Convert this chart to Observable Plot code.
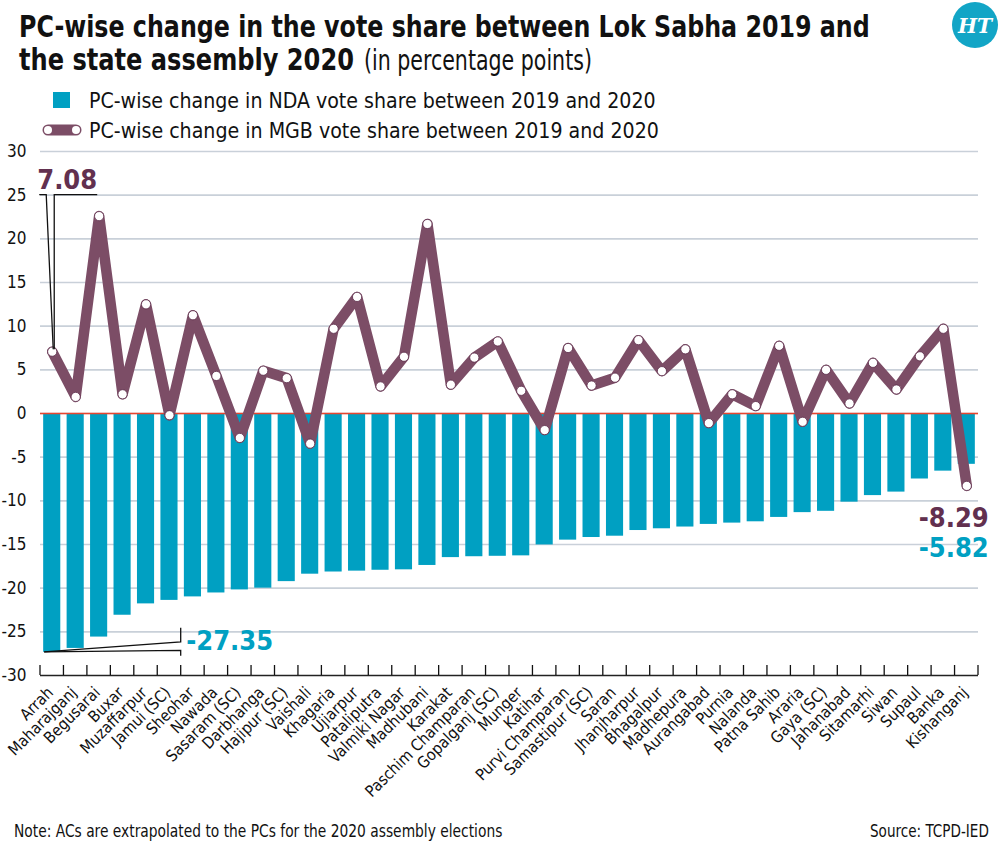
<!DOCTYPE html>
<html>
<head>
<meta charset="utf-8">
<script src="https://cdn.jsdelivr.net/npm/d3@7"></script>
<script src="https://cdn.jsdelivr.net/npm/@observablehq/plot@0.6"></script>
<style>
  html, body { margin: 0; padding: 0; background: #fff; }
  body { width: 1000px; height: 849px; overflow: hidden; }
  #page { position: relative; width: 1000px; height: 849px;
    font-family: "DejaVu Sans Condensed", "DejaVu Sans", sans-serif; color: #111; }
  #page > svg, #chart { position: absolute; left: 0; }
  #chart { top: 140px; }
</style>
</head>
<body>
<div id="page">
  <svg id="header" width="1000" height="145" style="top:0"></svg>
  <div id="chart"></div>
  <svg id="footer" width="1000" height="40" style="top:809px"></svg>
</div>
<script>
// Parliamentary constituencies, ordered by NDA change
const pcs = ["Arrah","Maharajganj","Begusarai","Buxar","Muzaffarpur","Jamui (SC)","Sheohar","Nawada","Sasaram (SC)","Darbhanga","Hajipur (SC)","Vaishali","Khagaria","Ujiarpur","Pataliputra","Valmiki Nagar","Madhubani","Karakat","Paschim Champaran","Gopalganj (SC)","Munger","Katihar","Purvi Champaran","Samastipur (SC)","Saran","Jhanjharpur","Bhagalpur","Madhepura","Aurangabad","Purnia","Nalanda","Patna Sahib","Araria","Gaya (SC)","Jahanabad","Sitamarhi","Siwan","Supaul","Banka","Kishanganj"];

// Change in NDA vote share, 2019 -> 2020 (percentage points)
const ndaChange = [-27.35,-26.9,-25.6,-23.1,-21.8,-21.4,-21.0,-20.55,-20.2,-20.0,-19.25,-18.4,-18.15,-18.05,-17.95,-17.9,-17.4,-16.5,-16.4,-16.35,-16.3,-15.05,-14.5,-14.2,-14.05,-13.4,-13.2,-13.0,-12.7,-12.55,-12.4,-11.9,-11.35,-11.2,-10.15,-9.4,-9.0,-7.5,-6.6,-5.82];

// Change in MGB vote share, 2019 -> 2020 (percentage points)
const mgbChange = [7.08,1.9,22.6,2.2,12.5,-0.2,11.25,4.3,-2.8,4.9,4.05,-3.45,9.7,13.35,3.1,6.5,21.7,3.3,6.4,8.25,2.6,-1.9,7.5,3.2,4.1,8.4,4.85,7.35,-1.1,2.2,0.85,7.75,-0.95,5.0,1.15,5.8,2.75,6.55,9.7,-8.29];

// Y axis ticks
const yTicks = [30,25,20,15,10,5,0,-5,-10,-15,-20,-25,-30];

const titleLines = ["PC-wise change in the vote share between Lok Sabha 2019 and", "the state assembly 2020", "(in percentage points)"];
const legendLabels = ["PC-wise change in NDA vote share between 2019 and 2020", "PC-wise change in MGB vote share between 2019 and 2020"];
const note = "Note: ACs are extrapolated to the PCs for the 2020 assembly elections";
const source = "Source: TCPD-IED";

const TEAL = "#00a0c2", PLUM = "#7c4d66", PLUM_TEXT = "#62304f", GRID = "#c9d0d9", INK = "#111";
const FONT = '"DejaVu Sans Condensed", "DejaVu Sans", sans-serif';

// ---- header: title, logo, legend ----
const header = d3.select("#header");
// condensed text: squeeze horizontally so the line spans the given width
function fitText(sel, str, x, y, len, size, weight) {
  const t = sel.append("text").attr("font-size", size)
    .attr("font-weight", weight).attr("fill", INK).text(str);
  const natural = t.node().getComputedTextLength() || len;
  t.attr("transform", `translate(${x},${y}) scale(${len / natural},1)`);
  return t;
}
fitText(header, titleLines[0], 19, 37, 851, 30, "bold");
fitText(header, titleLines[1], 19, 70, 335, 30, "bold");
fitText(header, titleLines[2], 364, 70, 228, 28, "normal");

const logo = header.append("g").attr("transform", "translate(975,25)");
logo.append("circle").attr("r", 23).attr("fill", "#12a5c6");
logo.append("text").attr("y", 8).attr("text-anchor", "middle").attr("fill", "#fff")
  .attr("font-family", "'DejaVu Serif', serif").attr("font-style", "italic").attr("font-weight", "bold")
  .attr("font-size", 21).attr("textLength", 34).attr("lengthAdjust", "spacingAndGlyphs").text("HT");

header.append("rect").attr("x", 53).attr("y", 92).attr("width", 17).attr("height", 16).attr("fill", TEAL);
header.append("line").attr("x1", 48).attr("x2", 76).attr("y1", 130).attr("y2", 130)
  .attr("stroke", PLUM).attr("stroke-width", 11).attr("stroke-linecap", "round");
header.selectAll("circle.leg").data([48, 76]).join("circle")
  .attr("cx", d => d).attr("cy", 130).attr("r", 4).attr("fill", "#fff");
fitText(header, legendLabels[0], 89, 108, 567, 22, "normal");
fitText(header, legendLabels[1], 89, 138, 570, 22, "normal");

// ---- footer ----
const footer = d3.select("#footer");
fitText(footer, note, 14, 28, 489, 17, "normal");
fitText(footer, source, 870, 28, 119, 17, "normal");

// ---- chart ----
const rows = pcs.map((pc, i) => ({pc, nda: ndaChange[i], mgb: mgbChange[i]}));
const first = rows[0], last = rows[rows.length - 1];
const fmt = v => String(v);

const chart = Plot.plot({
  width: 1000,
  height: 660,
  marginTop: 11,
  marginBottom: 125,
  marginLeft: 40,
  marginRight: 22,
  style: {fontFamily: FONT, fontSize: "17px", color: INK, background: "transparent"},
  x: {domain: pcs, paddingInner: 0.27, paddingOuter: 0.135, round: false, axis: null},
  y: {domain: [-30, 30], ticks: yTicks, tickSize: 0, tickPadding: 14, tickFormat: fmt, label: null},
  marks: [
    Plot.ruleY(yTicks.filter(d => d > -30), {stroke: GRID, strokeWidth: 1.6}),
    Plot.barY(rows, {x: "pc", y: "nda", fill: TEAL}),
    Plot.ruleY([0], {stroke: "#e8452f", strokeWidth: 1.3}),
    Plot.ruleY([-30], {stroke: "#222", strokeWidth: 1.6}),
    Plot.line(rows, {x: "pc", y: "mgb", stroke: PLUM, strokeWidth: 10.5, strokeLinejoin: "round", strokeLinecap: "round"}),
    Plot.dot(rows, {x: "pc", y: "mgb", r: 4.6, fill: "#fff", stroke: "#5a2a47", strokeWidth: 0.8}),
    // category labels along the bottom
    Plot.text(pcs, {x: d => d, y: () => -30, rotate: -45, textAnchor: "end", lineAnchor: "bottom", dy: 18, dx: 2, fontSize: 16, fill: INK}),
    // value callouts
    Plot.text([first], {x: "pc", y: () => 25, text: d => fmt(d.mgb), textAnchor: "start", lineAnchor: "bottom", dx: -15, dy: -6, fontSize: 27, fontWeight: "bold", fill: PLUM_TEXT}),
    Plot.text([first], {x: "pc", y: "nda", text: d => fmt(d.nda), textAnchor: "start", lineAnchor: "bottom", dx: 134, dy: -2, fontSize: 27, fontWeight: "bold", fill: TEAL}),
    Plot.text([last], {x: "pc", y: "mgb", text: d => fmt(d.mgb), textAnchor: "end", lineAnchor: "bottom", dx: 22, dy: 41, fontSize: 27, fontWeight: "bold", fill: PLUM_TEXT}),
    Plot.text([last], {x: "pc", y: "nda", text: d => fmt(d.nda), textAnchor: "end", lineAnchor: "bottom", dx: 22, dy: 93, fontSize: 27, fontWeight: "bold", fill: TEAL})
  ]
});
document.getElementById("chart").appendChild(chart);

// Rebuild the plot's scales to place the axis ticks and callout leaders
const xs = chart.scale("x"), ys = chart.scale("y");
const xb = d3.scaleBand().domain(xs.domain).range(xs.range)
  .paddingInner(xs.paddingInner).paddingOuter(xs.paddingOuter).align(xs.align ?? 0.5);
const yl = d3.scaleLinear().domain(ys.domain).range(ys.range);
const step = xb.step(), bw = xb.bandwidth();
const leaders = d3.select(chart).append("g").attr("fill", "none").attr("stroke", INK).attr("stroke-width", 1.3);

// ticks between the bars on the bottom axis
const bounds = pcs.map(pc => xb(pc) + bw / 2 - step / 2).concat([xb(pcs[pcs.length - 1]) + bw / 2 + step / 2]);
leaders.selectAll("line.tick").data(bounds).join("line")
  .attr("x1", d => d).attr("x2", d => d)
  .attr("y1", yl(-30)).attr("y2", yl(-30) - 10);

// leader for the first MGB value
const cx = xb(first.pc) + bw / 2, levelY = yl(25), pointY = yl(first.mgb);
leaders.append("path").attr("d", `M${cx - 12.5},${levelY}H${cx - 5.5}L${cx + 1.5},${pointY - 2}`);
leaders.append("path").attr("d", `M${cx + 45.5},${levelY}H${cx + 2.5}V${pointY - 2}`);

// leader for the first NDA value
const bx = xb(first.pc), barY = yl(first.nda), ex = bounds[6];
leaders.append("path").attr("d", `M${bx + 1},${barY}L${ex},${barY - 10}V${barY - 24}`);
leaders.append("path").attr("d", `M${bx + 1},${barY}L${ex},${barY - 1.5}V${barY + 4}`);
</script>
</body>
</html>
